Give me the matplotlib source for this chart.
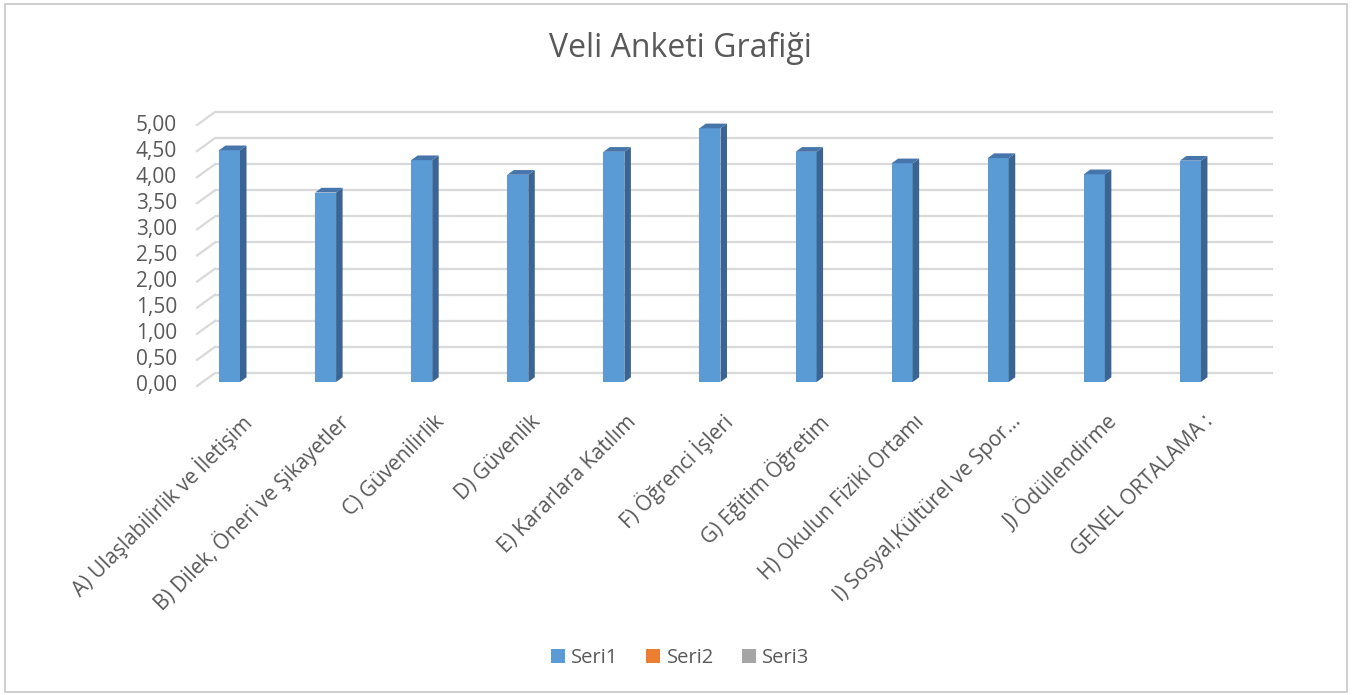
import matplotlib
matplotlib.use("Agg")
import matplotlib.pyplot as plt
from matplotlib.patches import Polygon, Patch, Rectangle

plt.rcParams['font.family'] = ['Open Sans', 'DejaVu Sans']

categories = [
    "A) Ulaşlabilirlik ve İletişim",
    "B) Dilek, Öneri ve Şikayetler",
    "C) Güvenilirlik",
    "D) Güvenlik",
    "E) Kararlara Katılım",
    "F) Öğrenci İşleri",
    "G) Eğitim Öğretim",
    "H) Okulun Fiziki Ortamı",
    "I) Sosyal,Kültürel ve Spor…",
    "J) Ödüllendirme",
    "GENEL ORTALAMA :",
]
seri1 = [4.44, 3.63, 4.25, 3.97, 4.41, 4.86, 4.41, 4.19, 4.29, 3.98, 4.24]
series_names = ["Seri1", "Seri2", "Seri3"]
yticks = [0.0, 0.5, 1.0, 1.5, 2.0, 2.5, 3.0, 3.5, 4.0, 4.5, 5.0]

FRONT = "#5B9BD5"
SIDE = "#3A6592"
TOP = "#4575AA"
GRID = "#D9D9D9"
TXT = "#595959"
legend_colors = ["#5B9BD5", "#ED7D31", "#A5A5A5"]

W, H = 1360, 695
fig = plt.figure(figsize=(W / 100, H / 100), dpi=100)

# axes = bar plane (pixel geometry)
left_px, right_px = 202.5, 1260.5
y0_px, y5_px = 382, 121
ax = fig.add_axes([left_px / W, 1 - y0_px / H, (right_px - left_px) / W, (y0_px - y5_px) / H])
xmin, xmax = -0.281, 10.729
ax.set_xlim(xmin, xmax)
ax.set_ylim(0, 5)
ax.axis("off")

sx = (xmax - xmin) / (right_px - left_px)   # data per px
sy = 5.0 / (y0_px - y5_px)

# depth offsets (px)
back_dx, back_dy = 12.5, 9.0
front_dx, front_dy = -5.5, -4.0

# gridlines on back wall and side wall
for v in yticks:
    yb = v + back_dy * sy
    yf = v + front_dy * sy
    xb_l = xmin + back_dx * sx
    xb_r = xmax + back_dx * sx
    xf_l = xmin + front_dx * sx
    ax.plot([xb_l, xb_r], [yb, yb], color=GRID, lw=1.6, zorder=1, clip_on=False,
            solid_capstyle="butt")
    ax.plot([xf_l, xb_l], [yf, yb], color=GRID, lw=1.6, zorder=1, clip_on=False)
    ax.text(xf_l - 20 * sx, yf, f"{v:.2f}".replace(".", ","), ha="right", va="center",
            fontsize=15, color=TXT, clip_on=False)

# bars
x = list(range(len(categories)))
w = 21 * sx
ax.bar(x, seri1, width=w, color=FRONT, zorder=3, linewidth=0)
ddx, ddy = 6.5 * sx, 4.7 * sy
for xi, v in zip(x, seri1):
    xr = xi + w / 2
    xl = xi - w / 2
    ax.add_patch(Polygon([(xr, 0), (xr + ddx, ddy), (xr + ddx, v + ddy), (xr, v)],
                         closed=True, facecolor=SIDE, edgecolor="none", zorder=3, clip_on=False))
    ax.add_patch(Polygon([(xl, v), (xr, v), (xr + ddx, v + ddy), (xl + ddx, v + ddy)],
                         closed=True, facecolor=TOP, edgecolor="none", zorder=3, clip_on=False))

# category labels
for xi, lab in zip(x, categories):
    ax.text(xi + 0.20, -0.70, lab, rotation=45, rotation_mode="anchor", ha="right",
            va="center", fontsize=15, color=TXT, clip_on=False)

# title
fig.text(0.5, 1 - 48 / H, "Veli Anketi Grafiği", ha="center", va="center",
         fontsize=23, color=TXT)

# legend
handles = [Patch(facecolor=c, edgecolor="none") for c in legend_colors]
fig.legend(handles, series_names, loc="center", bbox_to_anchor=(0.5, 1 - 658 / H), ncol=3,
           frameon=False, fontsize=14.5, handlelength=0.7, handleheight=0.7,
           handletextpad=0.3, columnspacing=1.4, labelcolor=TXT)

# outer border
fig.add_artist(Rectangle((5 / W, 1 - 692 / H), (1347 - 5) / W, (692 - 4) / H,
                         transform=fig.transFigure, fill=False, edgecolor="#D0D0D0", lw=1.5))

fig.savefig("out.png", dpi=100, facecolor="white")
